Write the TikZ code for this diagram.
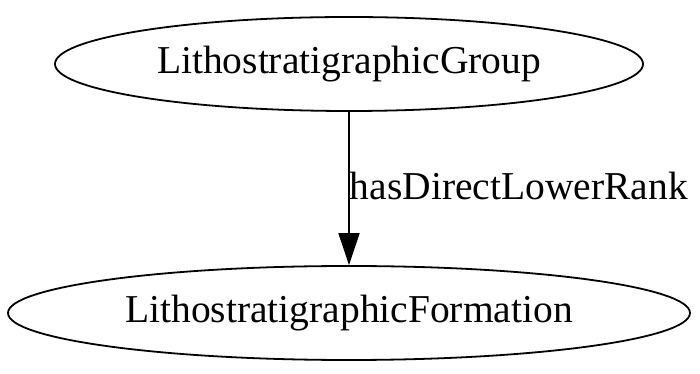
\documentclass[tikz,border=0pt]{standalone}
\usepackage{fontspec}
\setmainfont{Liberation Serif}
\usetikzlibrary{shapes.geometric,arrows.meta}
\begin{document}
\begin{tikzpicture}[x=1pt,y=1pt,
  concept/.style={draw,line width=1.8pt,ellipse,inner sep=0pt},
  relation/.style={draw,line width=1.8pt,-{Triangle[length=32pt,width=21pt]}},
  txt/.style={font=\fontsize{39.5}{42}\selectfont}]
\useasboundingbox (0,0) rectangle (700,374);
\node[concept,minimum width=588pt,minimum height=94pt] (grp) at (349,310) {};
\node[txt] at (grp.center) {LithostratigraphicGroup};
\node[concept,minimum width=682pt,minimum height=94pt] (fm) at (349,61) {};
\node[txt] at (fm.center) {LithostratigraphicFormation};
\draw[relation] (grp.south) -- (fm.north)
  node[midway,right,inner sep=0pt,txt,yshift=3pt] (lbl) {hasDirectLowerRank};
\end{tikzpicture}
\end{document}
